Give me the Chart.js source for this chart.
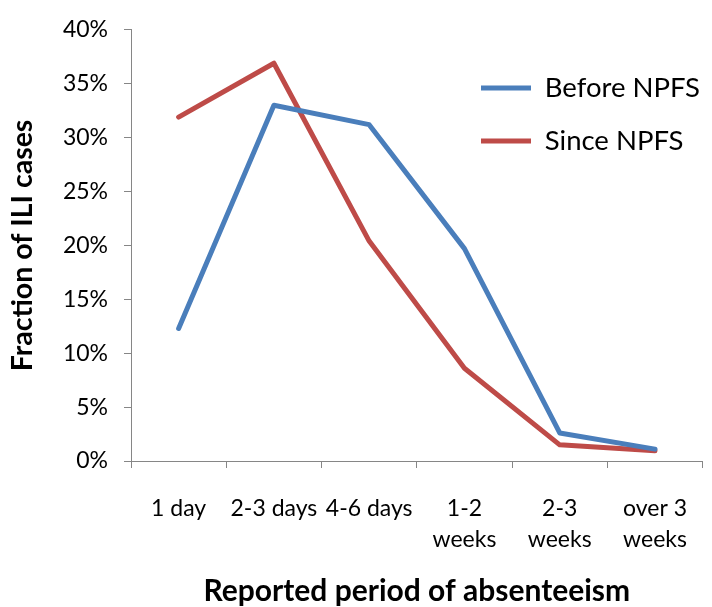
<!DOCTYPE html>
<html>
<head>
<meta charset="utf-8">
<script src="https://cdn.jsdelivr.net/npm/chart.js@4"></script>
<style>
  html, body { margin: 0; padding: 0; background: #ffffff; }
  #wrap { width: 712px; height: 607px; overflow: hidden; }
</style>
</head>
<body>
<div id="wrap"><canvas id="c" width="712" height="607"></canvas></div>
<script>
const categories = ['1 day', '2-3 days', '4-6 days', ['1-2', 'weeks'], ['2-3', 'weeks'], ['over 3', 'weeks']];
const beforeNPFS = [12.3, 33.0, 31.2, 19.7, 2.6, 1.1];
const sinceNPFS = [31.9, 36.9, 20.4, 8.6, 1.5, 0.95];
const seriesNames = ['Before NPFS', 'Since NPFS'];
const yTicks = [0, 5, 10, 15, 20, 25, 30, 35, 40];
const xTitle = 'Reported period of absenteeism';
const yTitle = 'Fraction of ILI cases';

const FONT = 'Lato';
const AXIS = '#868686';

const legendPlacer = {
  id: 'legendPlacer',
  afterUpdate(chart) {
    const lg = chart.legend;
    if (!lg) return;
    lg.left = 455.5; lg.right = 712; lg.width = 712 - 455.5;
    lg.top = 48.75; lg.bottom = 230; lg.height = 230 - 48.75;
  }
};

new Chart(document.getElementById('c'), {
  type: 'line',
  data: {
    labels: categories,
    datasets: [
      { label: seriesNames[0], data: beforeNPFS, borderColor: '#4A7EBB', backgroundColor: '#4A7EBB',
        borderWidth: 5, pointRadius: 0, tension: 0, borderCapStyle: 'round', borderJoinStyle: 'round', fill: false },
      { label: seriesNames[1], data: sinceNPFS, borderColor: '#BE4B48', backgroundColor: '#BE4B48',
        borderWidth: 5, pointRadius: 0, tension: 0, borderCapStyle: 'round', borderJoinStyle: 'round', fill: false }
    ]
  },
  options: {
    responsive: false,
    animation: false,
    devicePixelRatio: 1,
    layout: { padding: { top: 26, right: -1.5, bottom: 0, left: 0 } },
    plugins: {
      tooltip: { enabled: false },
      legend: {
        display: true,
        position: 'chartArea',
        align: 'start',
        labels: {
          usePointStyle: true,
          pointStyle: 'line',
          pointStyleWidth: 50,
          boxHeight: 27.5,
          padding: 25.5,
          color: '#000000',
          font: { family: FONT, size: 27.5 }
        }
      }
    },
    scales: {
      x: {
        type: 'category',
        offset: true,
        grid: { offset: true, drawOnChartArea: false, drawTicks: true, tickLength: 7, color: AXIS, lineWidth: 1 },
        border: { display: true, color: AXIS, width: 1 },
        ticks: { color: '#000000', font: { family: FONT, size: 23, lineHeight: 1.35 }, padding: 25, maxRotation: 0, minRotation: 0, autoSkip: false },
        title: { display: true, text: xTitle, color: '#000000', font: { family: FONT, size: 30, weight: 'bold', lineHeight: 1 }, padding: { top: 0, bottom: 1 } },
        afterFit(scale) { scale.height = 146; }
      },
      y: {
        min: 0, max: 40,
        afterBuildTicks(scale) { scale.ticks = yTicks.map(v => ({ value: v })); },
        grid: { drawOnChartArea: false, drawTicks: true, tickLength: 7, color: AXIS, lineWidth: 1 },
        border: { display: true, color: AXIS, width: 1 },
        ticks: { color: '#000000', font: { family: FONT, size: 23 }, padding: 16, callback: v => v + '%' },
        title: { display: true, text: yTitle, color: '#000000', font: { family: FONT, size: 28.5, weight: 'bold', lineHeight: 1 }, padding: { top: 9, bottom: 0 } },
        afterFit(scale) { scale.width = 131; }
      }
    }
  },
  plugins: [legendPlacer]
});
</script>
</body>
</html>
